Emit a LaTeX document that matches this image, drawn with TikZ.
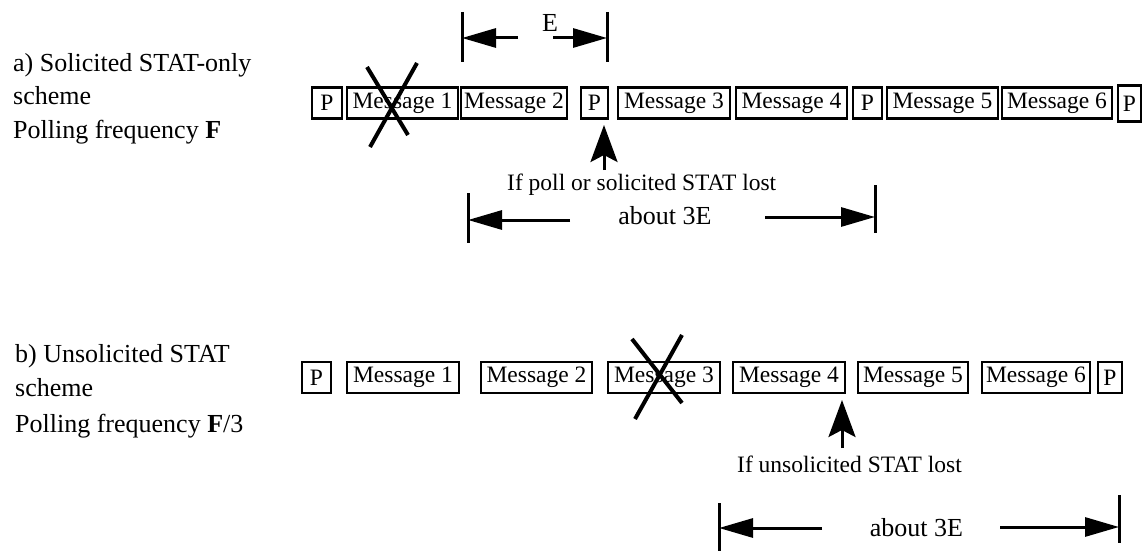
\documentclass[tikz,border=0pt]{standalone}
\usepackage{fontspec}
\setmainfont{Liberation Serif}
\usetikzlibrary{arrows.meta}
\newcommand\msgfont{\fontsize{23.5}{28}\selectfont}
\newcommand\lblfont{\fontsize{26}{32}\selectfont}
\newcommand\notefont{\fontsize{23.5}{28}\selectfont}
\begin{document}
\begin{tikzpicture}[x=1pt,y=-1pt,
  pkt/.style={draw, line width=2.8pt, inner sep=0pt, minimum height=31pt, font=\msgfont},
  lbl/.style={anchor=base west, inner sep=0pt, font=\lblfont},
  note/.style={anchor=base west, inner sep=0pt, font=\notefont},
  dimtxt/.style={anchor=base, inner sep=0pt, font=\lblfont},
  bar/.style={line width=3pt},
  dimarrow/.style={line width=3pt, -{Triangle[length=34pt,width=19pt]}},
  uparrow/.style={line width=3pt, -{Stealth[length=37pt,width=27pt,inset=7pt]}},
  cross/.style={line width=4pt}]
\useasboundingbox (0,0) rectangle (1146,551);

% ---- scheme a: labels
\node[lbl] (la1) at (13,72) {a) Solicited STAT-only};
\node[lbl] (la2) at (13,104) {scheme};
\node[lbl] (la3) at (13,138) {Polling frequency \textbf{F}};

% ---- scheme a: packet row
\node[pkt, minimum width=30pt]  (pa1) at (327,103)   {P};
\node[pkt, minimum width=111pt] (ma1) at (402.5,103) {Message 1};
\node[pkt, minimum width=106pt] (ma2) at (514,103)   {Message 2};
\node[pkt, minimum width=27pt]  (pa2) at (594.5,103) {P};
\node[pkt, minimum width=112pt] (ma3) at (674,103)   {Message 3};
\node[pkt, minimum width=111pt] (ma4) at (791.5,103) {Message 4};
\node[pkt, minimum width=29pt]  (pa3) at (867.5,103) {P};
\node[pkt, minimum width=111pt] (ma5) at (942.5,103) {Message 5};
\node[pkt, minimum width=110pt] (ma6) at (1057,103)  {Message 6};
\node[pkt, minimum width=23pt, minimum height=36pt] (pa4) at (1129.5,103.5) {P};

% lost message 1
\coordinate (xa1) at (367,67);  \coordinate (xa2) at (408,135);
\coordinate (xa3) at (417,63);  \coordinate (xa4) at (370,147);
\draw[cross] (xa1) -- (xa2);
\draw[cross] (xa3) -- (xa4);

% interval E
\coordinate (e1t) at (462,12); \coordinate (e1b) at (462,62);
\coordinate (e2t) at (607,12); \coordinate (e2b) at (607,62);
\coordinate (e1) at (462,38);  \coordinate (e2) at (607,38);
\coordinate (e1s) at (518,38); \coordinate (e2s) at (553,38);
\draw[bar] (e1t) -- (e1b);
\draw[bar] (e2t) -- (e2b);
\draw[dimarrow] (e1s) -- (e1);
\draw[dimarrow] (e2s) -- (e2);
\node[dimtxt] (etxt) at (550,32) {E};

% poll lost
\coordinate (ua) at (604,170);
\coordinate (uat) at (604,125);
\draw[uparrow] (ua) -- (uat);
\node[note] (na) at (507,190) {If poll or solicited STAT lost};

% about 3E, scheme a
\coordinate (a1t) at (468,193); \coordinate (a1b) at (468,243);
\coordinate (a2t) at (875,185); \coordinate (a2b) at (875,233);
\coordinate (a1) at (468,220);  \coordinate (a1s) at (570,220);
\coordinate (a2) at (875,217);  \coordinate (a2s) at (765,217);
\draw[bar] (a1t) -- (a1b);
\draw[bar] (a2t) -- (a2b);
\draw[dimarrow] (a1s) -- (a1);
\draw[dimarrow] (a2s) -- (a2);
\node[dimtxt] (ta) at (665,224) {about 3E};

% ---- scheme b: labels
\node[lbl] (lb1) at (15,362) {b) Unsolicited STAT};
\node[lbl] (lb2) at (15,396) {scheme};
\node[lbl] (lb3) at (15,432) {Polling frequency \textbf{F}/3};

% ---- scheme b: packet row
\node[pkt, minimum width=29pt]  (pb1) at (316.5,377.5) {P};
\node[pkt, minimum width=112pt] (mb1) at (403,377.5)   {Message 1};
\node[pkt, minimum width=111pt] (mb2) at (536.5,377.5) {Message 2};
\node[pkt, minimum width=112pt] (mb3) at (664,377.5)   {Message 3};
\node[pkt, minimum width=112pt] (mb4) at (789,377.5)   {Message 4};
\node[pkt, minimum width=110pt] (mb5) at (913,377.5)   {Message 5};
\node[pkt, minimum width=108pt] (mb6) at (1036,377.5)  {Message 6};
\node[pkt, minimum width=24pt]  (pb2) at (1110,377.5)  {P};

% lost message 3
\coordinate (xb1) at (632,339); \coordinate (xb2) at (682,403);
\coordinate (xb3) at (682,335); \coordinate (xb4) at (635,419);
\draw[cross] (xb1) -- (xb2);
\draw[cross] (xb3) -- (xb4);

% unsolicited STAT lost
\coordinate (ub) at (842,448);
\coordinate (ubt) at (842,400);
\draw[uparrow] (ub) -- (ubt);
\node[note] (nb) at (737,472) {If unsolicited STAT lost};

% about 3E, scheme b
\coordinate (b1t) at (719,503); \coordinate (b1b) at (719,553);
\coordinate (b2t) at (1119,495); \coordinate (b2b) at (1119,543);
\coordinate (b1) at (719,528);  \coordinate (b1s) at (822,528);
\coordinate (b2) at (1119,527); \coordinate (b2s) at (1000,527);
\draw[bar] (b1t) -- (b1b);
\draw[bar] (b2t) -- (b2b);
\draw[dimarrow] (b1s) -- (b1);
\draw[dimarrow] (b2s) -- (b2);
\node[dimtxt] (tb) at (916.5,536) {about 3E};
\end{tikzpicture}
\end{document}
